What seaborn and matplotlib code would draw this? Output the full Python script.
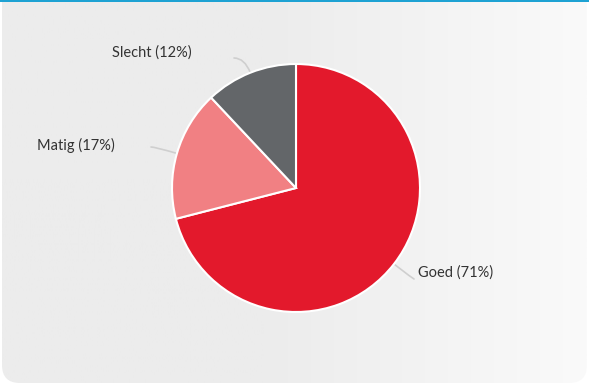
import numpy as np
import matplotlib
matplotlib.use("Agg")
import matplotlib.pyplot as plt
from matplotlib.patches import FancyBboxPatch, Rectangle
import seaborn as sns

categories = ["Goed", "Matig", "Slecht"]
values = [71, 17, 12]
labels = ["Goed (71%)", "Matig (17%)", "Slecht (12%)"]
colors = ["#e3192c", "#f18083", "#636669"]

sns.set_theme(style="white")
plt.rcParams["font.family"] = ["Lato", "DejaVu Sans"]

W, H = 589, 387
fig = plt.figure(figsize=(W / 100, H / 100), dpi=100)
fig.patch.set_facecolor("white")

# background panel (pixel coordinates, y downward)
bg = fig.add_axes([0, 0, 1, 1])
bg.set_xlim(0, W)
bg.set_ylim(H, 0)
bg.axis("off")
grad = np.linspace(0, 1, 256)
c0 = np.array([0xec, 0xec, 0xec]) / 255
c1 = np.array([0xfa, 0xfa, 0xfa]) / 255
t = np.clip((grad - 0.45) / 0.55, 0, 1)
img = (c0[None, :] * (1 - t[:, None]) + c1[None, :] * t[:, None])[None, :, :]
im = bg.imshow(img, extent=[2, W - 2, H - 2, -20], aspect="auto", zorder=0)
clip = FancyBboxPatch((2, -30), W - 4, H - 2 + 30 - 2, boxstyle="round,pad=0,rounding_size=18",
                      transform=bg.transData, facecolor="none", edgecolor="none")
bg.add_patch(clip)
im.set_clip_path(clip)
bg.add_patch(Rectangle((0, 0), W, 2.2, facecolor="#1ea2d3", edgecolor="none", zorder=2))

# pie
cx, cy, r = 296, 188, 124
ax = fig.add_axes([(cx - r) / W, (H - cy - r) / H, 2 * r / W, 2 * r / H])
ax.set_xlim(-1, 1)
ax.set_ylim(-1, 1)
ax.axis("off")
wedges, _ = ax.pie(values, colors=colors, startangle=90, counterclock=False, radius=1,
                   wedgeprops=dict(edgecolor="white", linewidth=1.5))
ax.set_xlim(-1, 1)
ax.set_ylim(-1, 1)

# label layout: (line start px, text pos px, ha)
layout = {
    "Goed": ((414, 279), (418, 273), "left"),
    "Matig": ((151, 147), (115, 145), "right"),
    "Slecht": ((234, 58), (192, 53), "right"),
}
for w, cat, lab in zip(wedges, categories, labels):
    ang = np.deg2rad((w.theta1 + w.theta2) / 2)
    ex, ey = cx + r * np.cos(ang), cy - r * np.sin(ang)
    (sx, sy), (tx, ty), ha = layout[cat]
    angB = np.rad2deg(ang)
    bg.annotate("", xy=(ex, ey), xytext=(sx, sy), xycoords="data", textcoords="data",
                arrowprops=dict(arrowstyle="-", color="#cfcfcf", lw=1.2,
                                connectionstyle=f"angle3,angleA=0,angleB={angB}",
                                shrinkA=0, shrinkB=0), zorder=3)
    bg.text(tx, ty, lab, ha=ha, va="center", fontsize=10.5, color="#333333", zorder=4)

fig.savefig("out.png", dpi=100)
